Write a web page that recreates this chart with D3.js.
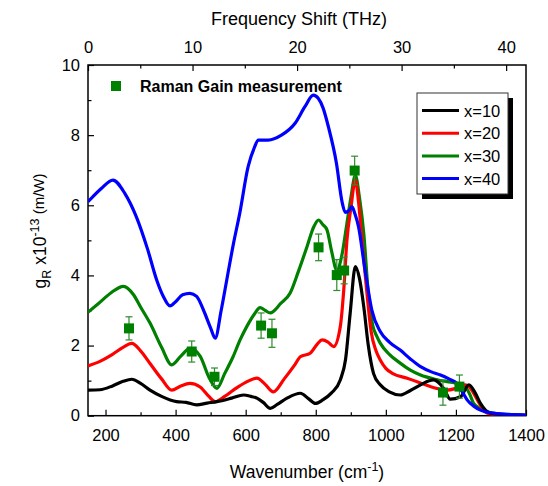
<!DOCTYPE html>
<html><head><meta charset="utf-8">
<script src="https://cdn.jsdelivr.net/npm/d3@7"></script>
<style>body{margin:0;background:#fff}svg{display:block;font-family:Arial,"Liberation Sans",sans-serif}</style>
</head><body><svg id="c" width="548" height="486"></svg>
<script>
// ---- data (wavenumber cm^-1, gR x1e-13 m/W) ----
const seriesNames = ["x=10","x=20","x=30","x=40"];
const seriesColors = ["#000000","#ff0000","#008000","#0000ff"];
const g10 = [[150,0.73],[184,0.74],[220,0.85],[250,0.98],[275,1.04],[300,0.92],[327,0.73],[360,0.55],[403,0.40],[430,0.38],[460,0.31],[490,0.36],[518,0.40],[560,0.50],[594,0.59],[615,0.55],[632,0.50],[650,0.38],[670,0.21],[690,0.32],[718,0.50],[756,0.64],[780,0.48],[799,0.35],[820,0.45],[845,0.65],[870,1.02],[885,1.6],[898,2.9],[913,4.25],[925,3.9],[937,3.11],[950,2.0],[965,1.2],[984,0.88],[1010,0.68],[1041,0.59],[1070,0.72],[1099,0.88],[1136,1.02],[1165,0.78],[1184,0.47],[1213,0.54],[1237,0.88],[1255,0.65],[1270,0.35],[1285,0.15],[1299,0.07],[1330,0.03],[1400,0.01]];
const g20 = [[150,1.42],[184,1.55],[220,1.75],[250,1.95],[275,2.06],[300,1.85],[327,1.49],[360,1.05],[389,0.73],[415,0.85],[441,0.92],[470,0.82],[495,0.55],[513,0.40],[540,0.55],[565,0.73],[600,0.95],[632,1.07],[655,0.90],[679,0.68],[710,1.05],[740,1.45],[756,1.68],[784,1.78],[805,2.05],[818,2.16],[835,2.10],[851,1.97],[870,2.54],[880,3.6],[889,5.01],[900,5.9],[913,6.72],[922,6.1],[932,5.0],[946,3.5],[958,2.4],[972,1.85],[984,1.59],[1000,1.35],[1020,1.2],[1061,1.07],[1095,0.95],[1127,0.83],[1175,0.73],[1200,0.78],[1227,0.88],[1240,0.80],[1250,0.65],[1270,0.30],[1289,0.08],[1320,0.02],[1400,0.0]];
const g30 = [[150,2.95],[180,3.2],[215,3.5],[251,3.69],[280,3.45],[300,3.1],[327,2.64],[360,1.95],[389,1.45],[415,1.7],[441,1.92],[470,1.7],[495,1.1],[518,0.78],[540,1.2],[564,1.68],[584,2.16],[603,2.54],[625,2.9],[641,3.08],[656,3.0],[670,2.93],[700,3.2],[727,3.5],[750,4.1],[775,4.82],[795,5.4],[808,5.58],[820,5.45],[832,5.30],[845,4.7],[860,4.15],[875,4.6],[889,5.49],[900,6.2],[913,6.85],[925,6.2],[937,5.2],[950,3.5],[962,2.6],[975,2.25],[984,2.07],[1010,1.75],[1041,1.50],[1070,1.3],[1099,1.16],[1140,1.04],[1175,0.97],[1200,0.93],[1222,0.88],[1240,0.6],[1250,0.36],[1270,0.2],[1289,0.11],[1320,0.05],[1400,0.01]];
const g40 = [[150,6.10],[188,6.48],[221,6.72],[255,6.34],[288,5.67],[320,4.75],[346,3.87],[365,3.4],[384,3.13],[400,3.25],[420,3.45],[441,3.49],[460,3.4],[480,3.0],[500,2.5],[513,2.21],[530,3.0],[546,3.87],[565,4.9],[583,5.77],[607,7.10],[625,7.65],[636,7.86],[664,7.86],[702,8.0],[741,8.34],[769,8.81],[793,9.14],[807,9.05],[821,8.77],[836,8.24],[859,7.20],[875,6.1],[884,5.8],[895,5.85],[903,5.96],[912,5.75],[922,5.39],[940,4.2],[960,3.01],[984,2.4],[1010,2.1],[1041,1.87],[1070,1.62],[1099,1.40],[1130,1.25],[1156,1.16],[1180,1.05],[1203,0.92],[1220,0.65],[1232,0.45],[1250,0.28],[1270,0.16],[1300,0.08],[1350,0.04],[1400,0.02]];
// measurement: [wavenumber, gain, error]
const measured = [[267,2.49,0.33],[446,1.83,0.30],[511,1.11,0.25],[644,2.57,0.36],[675,2.35,0.40],[808,4.80,0.38],[860,4.01,0.44],[881,4.14,0.38],[911,6.99,0.41],[1163,0.66,0.36],[1210,0.83,0.33]];
const xTicks = [200,400,600,800,1000,1200,1400];
const xMinor = [300,500,700,900,1100,1300];
const yTicks = [0,2,4,6,8,10];
const yMinor = [1,3,5,7,9];
const topTicks = [0,10,20,30,40];
const topMinor = [5,15,25,35];

// ---- layout ----
const svg = d3.select("#c");
const L=88, R=526, T=65, B=415.7;
const x = d3.scaleLinear().domain([150,1400]).range([L,R]);
const xt = d3.scaleLinear().domain([0,41.9]).range([L,R]);
const y = d3.scaleLinear().domain([0,10]).range([B,T]);

const gx = svg.append("g").attr("transform",`translate(0,${B})`);
gx.call(d3.axisBottom(x).tickValues(xTicks).tickSize(-6).tickPadding(14).tickFormat(d3.format("d")));
gx.append("g").call(d3.axisBottom(x).tickValues(xMinor).tickSize(-3.5).tickFormat(""));
const gy = svg.append("g").attr("transform",`translate(${L},0)`);
gy.call(d3.axisLeft(y).tickValues(yTicks).tickSize(-6).tickPadding(8).tickFormat(d3.format("d")));
gy.append("g").call(d3.axisLeft(y).tickValues(yMinor).tickSize(-3.5).tickFormat(""));
const gt = svg.append("g").attr("transform",`translate(0,${T})`);
gt.call(d3.axisTop(xt).tickValues(topTicks).tickSize(-6).tickPadding(12).tickFormat(d3.format("d")));
gt.append("g").call(d3.axisTop(xt).tickValues(topMinor).tickSize(-3.5).tickFormat(""));
svg.selectAll(".domain").remove();
svg.selectAll(".tick line").attr("stroke","#000").attr("stroke-width",1.2);
svg.selectAll(".tick text").attr("font-size",16.5).attr("fill","#000").attr("font-family","Arial, 'Liberation Sans', sans-serif");

svg.append("rect").attr("x",L).attr("y",T).attr("width",R-L).attr("height",B-T)
  .attr("fill","none").attr("stroke","#000").attr("stroke-width",1.5);

// ---- lines ----
const clip = svg.append("clipPath").attr("id","clp").append("rect").attr("x",L).attr("y",T).attr("width",R-L).attr("height",B-T);
const line = d3.line().x(d=>x(d[0])).y(d=>y(d[1])).curve(d3.curveMonotoneX);
const seriesData = [g10,g20,g30,g40];
const order = [2,1,0,3];
const plot = svg.append("g").attr("clip-path","url(#clp)");
order.forEach(i=>{
  plot.append("path").datum(seriesData[i]).attr("d",line).attr("fill","none")
    .attr("stroke",seriesColors[i]).attr("stroke-width",3.2).attr("stroke-linejoin","round");
});

// ---- measurement points ----
const mg = svg.append("g");
measured.forEach(([w,g,e])=>{
  const cx=x(w), cy=y(g), y1=y(g+e), y2=y(g-e);
  mg.append("line").attr("x1",cx).attr("x2",cx).attr("y1",y1).attr("y2",y2).attr("stroke","#2e8b2e").attr("stroke-width",1.2);
  mg.append("line").attr("x1",cx-3.5).attr("x2",cx+3.5).attr("y1",y1).attr("y2",y1).attr("stroke","#2e8b2e").attr("stroke-width",1.2);
  mg.append("line").attr("x1",cx-3.5).attr("x2",cx+3.5).attr("y1",y2).attr("y2",y2).attr("stroke","#2e8b2e").attr("stroke-width",1.2);
  mg.append("rect").attr("x",cx-5).attr("y",cy-5).attr("width",10).attr("height",10).attr("fill","#008000");
});

// measurement label
svg.append("rect").attr("x",111).attr("y",81).attr("width",10).attr("height",10).attr("fill","#008000");
svg.append("text").attr("x",140).attr("y",91.5).attr("font-size",16).attr("font-weight","bold").text("Raman Gain measurement");

// ---- legend ----
const lg = svg.append("g");
lg.append("rect").attr("x",422).attr("y",98).attr("width",91).attr("height",101).attr("fill","#000");
lg.append("rect").attr("x",417).attr("y",93).attr("width",91).attr("height",101).attr("fill","#fff").attr("stroke","#333").attr("stroke-width",1);
seriesNames.forEach((n,i)=>{
  const yy = 110.5 + i*22.7;
  lg.append("line").attr("x1",422).attr("x2",459).attr("y1",yy).attr("y2",yy).attr("stroke",seriesColors[i]).attr("stroke-width",3);
  lg.append("text").attr("x",464).attr("y",yy+6).attr("font-size",16.5).text(n);
});

// ---- titles ----
svg.append("text").attr("x",299).attr("y",25).attr("text-anchor","middle").attr("font-size",18).text("Frequency Shift (THz)");
const xl = svg.append("text").attr("x",307).attr("y",478).attr("text-anchor","middle").attr("font-size",17.5);
xl.append("tspan").text("Wavenumber (cm");
xl.append("tspan").attr("font-size",12.5).attr("dy",-7).text("-1");
xl.append("tspan").attr("dy",7).text(")");
const yl = svg.append("text").attr("transform","translate(46,231) rotate(-90)").attr("text-anchor","middle").attr("font-size",17.5);
yl.append("tspan").text("g");
yl.append("tspan").attr("font-size",12.5).attr("dy",5).text("R");
yl.append("tspan").attr("dy",-5).text(" x10");
yl.append("tspan").attr("font-size",12.5).attr("dy",-7).text("-13");
yl.append("tspan").attr("font-size",15).attr("dy",5).text(" (m/W)");
</script></body></html>
